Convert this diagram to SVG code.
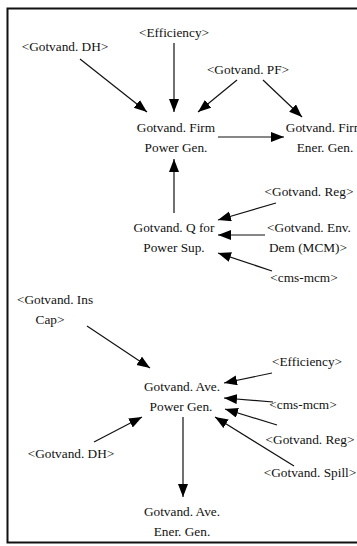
<svg xmlns="http://www.w3.org/2000/svg" width="357" height="546" viewBox="0 0 357 546">
<style>
.t text{font-size:13.3px;fill:#111;text-anchor:middle}
.c line{stroke:#111;stroke-width:1.2;marker-end:url(#ah)}
</style>
<defs>
<marker id="ah" markerUnits="userSpaceOnUse" markerWidth="14" markerHeight="11" refX="13" refY="5" orient="auto">
<path d="M0,0 L13,5 L0,10 z" fill="#000"/>
</marker>
</defs>
<rect x="0" y="0" width="357" height="546" fill="#fff"/>
<rect x="7.5" y="8.5" width="360" height="534" fill="none" stroke="#111" stroke-width="2"/>
<g class="c" id="connectors">
<line x1="80" y1="59" x2="147" y2="112"/>
<line x1="174" y1="43" x2="174" y2="112"/>
<line x1="237" y1="80" x2="198" y2="112"/>
<line x1="263" y1="80" x2="302" y2="117"/>
<line x1="218" y1="137" x2="284" y2="137"/>
<line x1="174" y1="213" x2="174" y2="159"/>
<line x1="276" y1="203" x2="218" y2="220"/>
<line x1="265" y1="235" x2="218" y2="235"/>
<line x1="272" y1="271" x2="218" y2="253"/>
<line x1="87" y1="326" x2="150" y2="368"/>
<line x1="272" y1="373" x2="224" y2="383"/>
<line x1="273" y1="402" x2="224" y2="398"/>
<line x1="277" y1="425" x2="225" y2="409"/>
<line x1="294" y1="466" x2="215" y2="417"/>
<line x1="94" y1="442" x2="142" y2="417"/>
<line x1="183" y1="417" x2="183" y2="497"/>
</g>
<g class="t" font-family="Liberation Serif, DejaVu Serif, serif">
<g id="efficiency1"><text x="174" y="37">&lt;Efficiency&gt;</text></g>
<g id="dh1"><text x="65" y="51">&lt;Gotvand. DH&gt;</text></g>
<g id="pf"><text x="248" y="74">&lt;Gotvand. PF&gt;</text></g>
<g id="firmPower"><text x="176" y="132">Gotvand. Firm</text><text x="176" y="152">Power Gen.</text></g>
<g id="firmEner"><text x="325" y="132">Gotvand. Firm</text><text x="325" y="152">Ener. Gen.</text></g>
<g id="reg1"><text x="309" y="196">&lt;Gotvand. Reg&gt;</text></g>
<g id="qPower"><text x="174" y="232">Gotvand. Q for</text><text x="174" y="252">Power Sup.</text></g>
<g id="env"><text x="309" y="232">&lt;Gotvand. Env.</text><text x="308" y="252">Dem (MCM)&gt;</text></g>
<g id="cms1"><text x="304" y="282">&lt;cms-mcm&gt;</text></g>
<g id="insCap"><text x="55" y="304">&lt;Gotvand. Ins</text><text x="50" y="324">Cap&gt;</text></g>
<g id="efficiency2"><text x="307" y="366">&lt;Efficiency&gt;</text></g>
<g id="avePower"><text x="182" y="391">Gotvand. Ave.</text><text x="181" y="411">Power Gen.</text></g>
<g id="cms2"><text x="303" y="409">&lt;cms-mcm&gt;</text></g>
<g id="reg2"><text x="310" y="444">&lt;Gotvand. Reg&gt;</text></g>
<g id="dh2"><text x="71" y="458">&lt;Gotvand. DH&gt;</text></g>
<g id="spill"><text x="310" y="477">&lt;Gotvand. Spill&gt;</text></g>
<g id="aveEner"><text x="182" y="516">Gotvand. Ave.</text><text x="182" y="536">Ener. Gen.</text></g>
</g>
</svg>
